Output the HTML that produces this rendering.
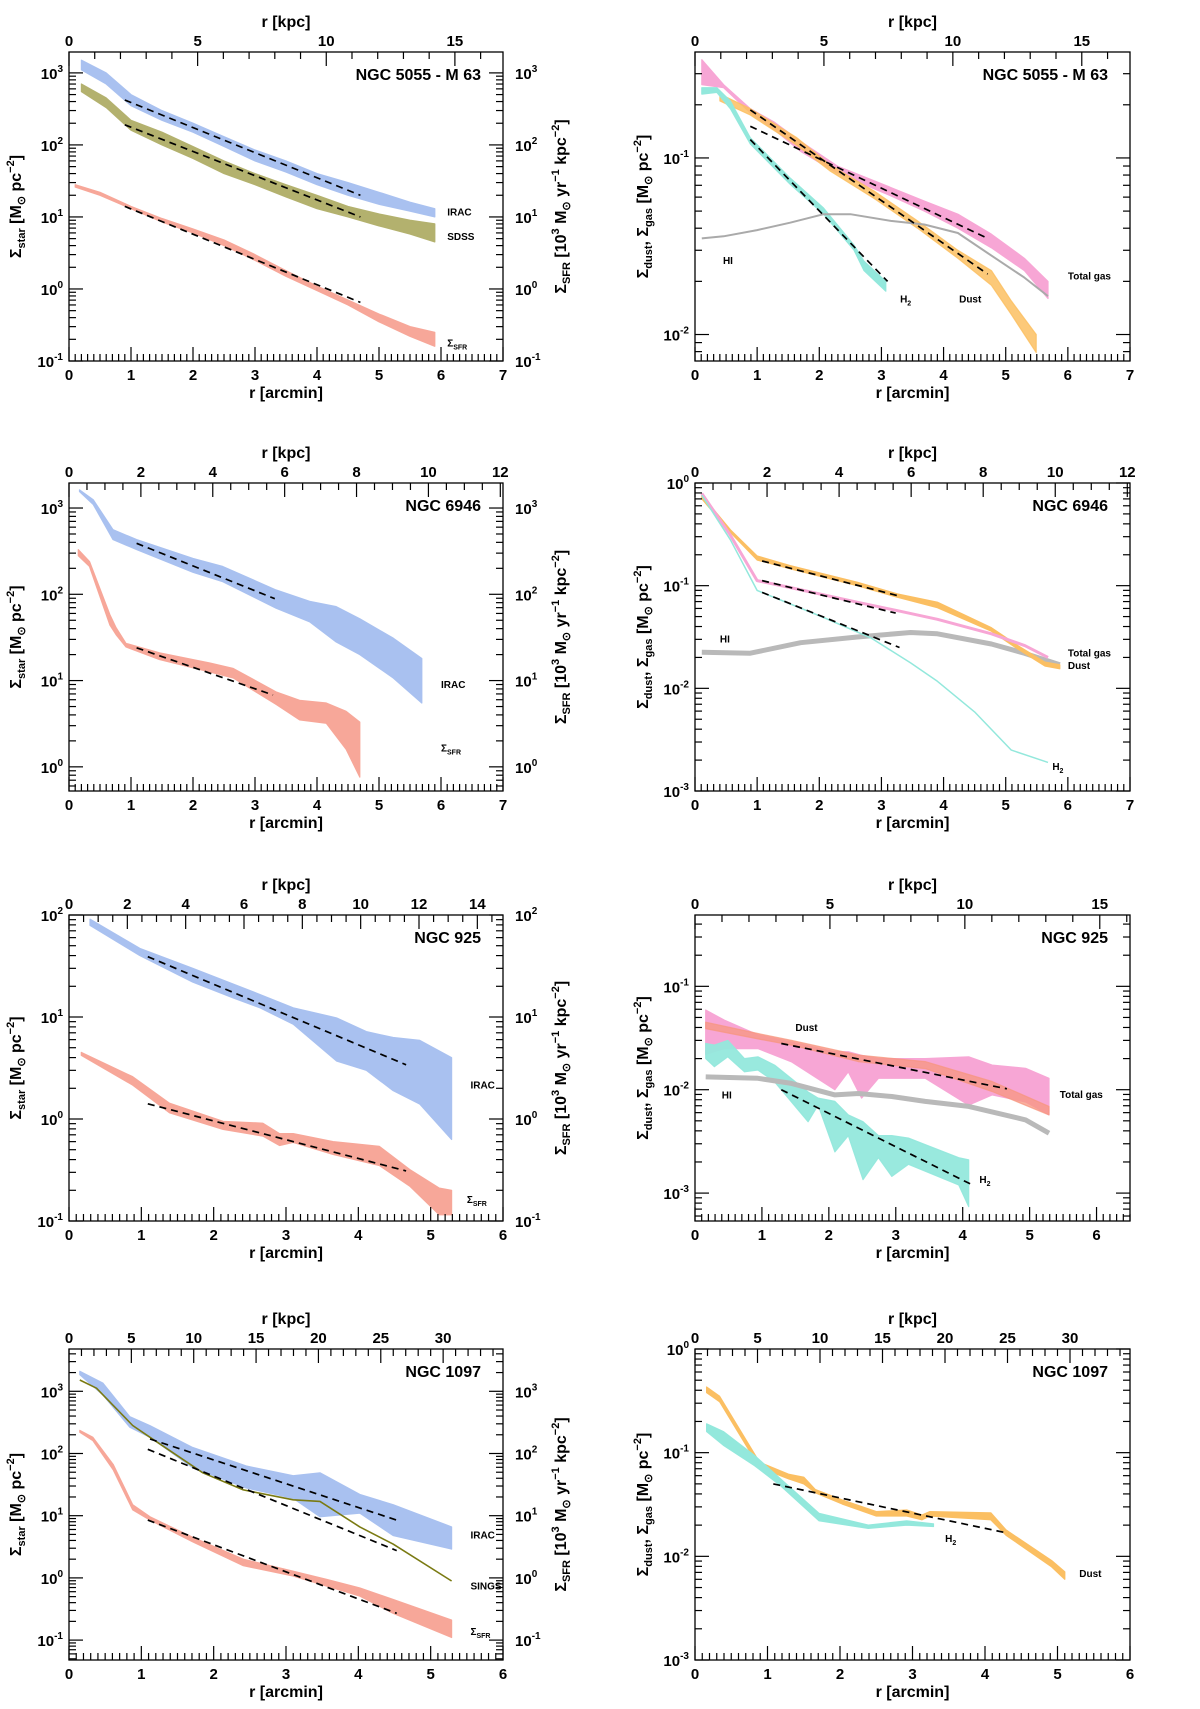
<!DOCTYPE html>
<html><head><meta charset="utf-8"><title>Radial profiles</title>
<style>
html,body{margin:0;padding:0;background:#fff;}
svg{display:block;font-family:"Liberation Sans",Arial,sans-serif;}
</style></head>
<body>
<svg id="fig" width="1200" height="1709" viewBox="0 0 1200 1709" xmlns="http://www.w3.org/2000/svg"></svg>
<script>
// ---------- data (values in surface density units, radius in arcmin) ----------
// Panel L1: NGC 5055 stellar / SFR
const l1IracR=[0.2,0.6,1.0,1.5,2.0,2.5,3.0,3.5,4.0,4.5,5.0,5.5,5.9];
const l1IracHi=[1500,1000,500,300,200,130,85,60,40,30,22,16,13];
const l1IracLo=[1100,700,350,220,150,95,60,42,28,20,15,12,10];
const l1SdssR=[0.2,0.6,1.0,1.5,2.0,2.5,3.0,3.5,4.0,4.5,5.0,5.5,5.9];
const l1SdssHi=[700,450,220,150,95,60,40,28,20,14,11,9,8];
const l1SdssLo=[550,330,160,100,65,40,28,19,13,10,7.5,5.8,4.5];
const l1SfrR=[0.1,0.5,1.0,1.5,2.0,2.5,3.0,3.5,4.0,4.5,5.0,5.5,5.9];
const l1SfrHi=[28,22,14,9.5,6.8,4.8,3.0,1.8,1.1,0.7,0.45,0.3,0.25];
const l1SfrLo=[26,20,13,8.5,6,4,2.5,1.5,0.95,0.6,0.35,0.22,0.16];
const l1FitIracR=[0.9,4.7], l1FitIracV=[420,20];
const l1FitSdssR=[0.9,4.7], l1FitSdssV=[190,10];
const l1FitSfrR=[0.9,4.7], l1FitSfrV=[14,0.65];
// Panel R1: NGC 5055 dust / gas
const r1GasR=[0.11,0.46,0.89,1.27,1.7,2.29,3.15,3.69,4.23,4.77,5.3,5.68];
const r1GasHi=[0.36,0.26,0.19,0.16,0.124,0.09,0.068,0.057,0.048,0.037,0.027,0.020];
const r1GasLo=[0.26,0.25,0.18,0.145,0.109,0.082,0.061,0.050,0.040,0.031,0.023,0.016];
const r1DustR=[0.4,0.89,1.64,2.18,2.88,3.58,4.23,4.77,5.09,5.49];
const r1DustHi=[0.23,0.19,0.13,0.091,0.065,0.044,0.030,0.023,0.0155,0.010];
const r1DustLo=[0.21,0.175,0.118,0.084,0.059,0.040,0.027,0.019,0.013,0.0079];
const r1H2R=[0.11,0.35,0.57,0.89,1.53,2.07,2.56,2.72,3.07];
const r1H2Hi=[0.25,0.25,0.21,0.13,0.077,0.052,0.032,0.026,0.020];
const r1H2Lo=[0.23,0.235,0.19,0.12,0.071,0.048,0.030,0.023,0.0176];
const r1HiR=[0.11,0.46,1.0,1.53,2.07,2.5,3.15,3.69,4.23,4.77,5.3,5.68];
const r1HiV=[0.035,0.036,0.039,0.043,0.048,0.048,0.044,0.042,0.0376,0.028,0.021,0.0165];
const r1FitDustR=[0.89,4.71], r1FitDustV=[0.187,0.022];
const r1FitGasR=[0.89,4.71], r1FitGasV=[0.151,0.035];
const r1FitH2R=[0.89,3.1], r1FitH2V=[0.127,0.020];
// Panel L2: NGC 6946
const l2IracR=[0.17,0.39,0.71,1.09,2.0,2.48,3.34,3.88,4.31,4.69,5.23,5.69];
const l2IracHi=[1620,1250,560,430,260,210,112,83,72,52,31,18];
const l2IracLo=[1550,1100,430,330,180,140,69,48,28,20,10.7,5.5];
const l2SfrR=[0.15,0.33,0.66,0.76,0.92,1.46,2.27,2.65,3.34,3.72,4.15,4.47,4.69];
const l2SfrHi=[330,240,58,41,27,21,16,13.8,7.4,5.9,5.5,4.4,3.3];
const l2SfrLo=[280,210,44,34,24.5,17.5,12.6,10.7,5.3,3.5,3.2,1.6,0.76];
const l2FitIracR=[1.09,3.32], l2FitIracV=[390,89];
const l2FitSfrR=[1.09,3.29], l2FitSfrV=[24,6.8];
// Panel R2: NGC 6946
const r2DustR=[0.11,0.57,1.0,1.53,2.61,3.26,3.9,4.77,5.2,5.63,5.87];
const r2DustHi=[0.76,0.35,0.195,0.157,0.108,0.083,0.069,0.039,0.026,0.018,0.017];
const r2DustLo=[0.70,0.33,0.178,0.146,0.100,0.077,0.061,0.036,0.024,0.0165,0.0155];
const r2GasR=[0.11,0.57,1.0,1.53,2.61,3.26,3.9,4.77,5.31,5.68];
const r2GasV=[0.79,0.31,0.112,0.096,0.069,0.057,0.047,0.034,0.026,0.020];
const r2H2R=[0.11,0.57,1.0,2.07,2.83,3.47,3.9,4.5,5.09,5.68];
const r2H2V=[0.76,0.28,0.09,0.049,0.031,0.0177,0.0117,0.0059,0.0025,0.0019];
const r2HiR=[0.11,0.89,1.7,2.61,3.47,3.9,4.77,5.3,5.87];
const r2HiV=[0.0225,0.022,0.0278,0.0316,0.035,0.034,0.027,0.022,0.017];
const r2FitDustR=[1.08,3.26], r2FitDustV=[0.174,0.080];
const r2FitGasR=[1.08,3.23], r2FitGasV=[0.112,0.054];
const r2FitH2R=[1.08,3.29], r2FitH2V=[0.086,0.025];
// Panel L3: NGC 925
const l3IracR=[0.29,0.98,1.71,2.27,2.64,3.1,3.7,4.11,4.48,4.85,5.29];
const l3IracHi=[91,47,30,21,16.6,12.3,9.8,7.2,6.3,5.9,4.0];
const l3IracLo=[79,40,22,15.4,12.3,8.5,3.7,3.0,1.9,1.4,0.63];
const l3SfrR=[0.17,0.88,1.39,2.13,2.68,2.91,3.1,3.65,4.29,4.71,5.12,5.29];
const l3SfrHi=[4.5,2.6,1.43,0.95,0.91,0.72,0.72,0.60,0.54,0.32,0.21,0.20];
const l3SfrLo=[4.2,2.15,1.15,0.79,0.68,0.55,0.59,0.45,0.35,0.22,0.115,0.115];
const l3FitIracR=[1.09,4.66], l3FitIracV=[39,3.4];
const l3FitSfrR=[1.09,4.66], l3FitSfrV=[1.41,0.31];
// Panel R3: NGC 925
const r3GasR=[0.16,0.44,0.94,1.44,2.09,2.29,2.49,2.74,3.44,4.09,4.44,4.94,5.29];
const r3GasHi=[0.059,0.047,0.034,0.029,0.0233,0.0233,0.0215,0.020,0.020,0.0208,0.0173,0.0161,0.0129];
const r3GasLo=[0.022,0.025,0.025,0.0186,0.010,0.0149,0.0083,0.0129,0.0129,0.0071,0.0089,0.0076,0.0057];
const r3DustR=[0.16,0.94,1.44,2.44,3.44,4.44,5.29];
const r3DustHi=[0.045,0.035,0.030,0.0216,0.0187,0.012,0.0069];
const r3DustLo=[0.039,0.031,0.027,0.0187,0.016,0.0096,0.0057];
const r3H2R=[0.16,0.29,0.49,0.74,0.94,1.19,1.69,1.84,2.09,2.29,2.51,2.74,2.94,3.19,3.94,4.09];
const r3H2Hi=[0.028,0.027,0.030,0.020,0.0208,0.0173,0.0095,0.0083,0.0077,0.0057,0.0049,0.0036,0.0036,0.0034,0.0022,0.0021];
const r3H2Lo=[0.020,0.0167,0.0208,0.0149,0.0155,0.0119,0.0049,0.0071,0.0025,0.0036,0.00135,0.0022,0.00145,0.0019,0.0012,0.00074];
const r3HiR=[0.16,0.94,1.44,2.09,2.44,2.94,3.44,4.09,4.44,4.94,5.29];
const r3HiV=[0.0133,0.0129,0.0115,0.0089,0.0092,0.0086,0.0077,0.0069,0.0061,0.0051,0.0038];
const r3FitDustR=[1.29,4.66], r3FitDustV=[0.028,0.0102];
const r3FitH2R=[1.29,4.11], r3FitH2V=[0.0100,0.00123];
// Panel L4: NGC 1097
const l4IracR=[0.15,0.47,0.84,1.12,1.71,2.45,3.1,3.47,4.02,4.48,5.29];
const l4IracHi=[2100,1350,390,280,125,63,44,49,22,15,6.6];
const l4IracLo=[1850,870,265,182,59,28,19,9.6,11,4.8,2.9];
const l4SingsR=[0.15,0.38,0.88,1.12,1.85,2.41,3.1,3.47,4.02,4.48,5.29];
const l4SingsV=[1520,1120,282,182,49,26,18,17,6.6,3.5,0.89];
const l4SfrR=[0.15,0.33,0.61,0.88,1.12,1.71,2.41,3.1,3.56,4.02,4.48,5.29];
const l4SfrHi=[235,182,67,15,9.6,4.5,2.0,1.28,0.95,0.69,0.45,0.21];
const l4SfrLo=[220,161,55,12.4,8.5,3.8,1.57,1.07,0.74,0.51,0.27,0.11];
const l4FitIracR=[1.12,4.53], l4FitIracV=[171,8.5];
const l4FitSingsR=[1.09,4.53], l4FitSingsV=[117,2.75];
const l4FitSfrR=[1.09,4.53], l4FitSfrV=[8.5,0.27];
// Panel R4: NGC 1097
const r4DustR=[0.16,0.34,0.89,1.29,1.5,1.66,2.03,2.5,2.92,3.13,3.24,4.08,4.29,4.92,5.1];
const r4DustHi=[0.43,0.35,0.081,0.062,0.058,0.044,0.035,0.027,0.028,0.025,0.027,0.0263,0.018,0.0091,0.0071];
const r4DustLo=[0.38,0.31,0.072,0.056,0.050,0.041,0.032,0.0245,0.0245,0.0225,0.0245,0.0225,0.016,0.0079,0.006];
const r4H2R=[0.16,0.39,0.82,1.18,1.71,2.39,2.92,3.29];
const r4H2Hi=[0.19,0.16,0.094,0.056,0.026,0.020,0.022,0.0206];
const r4H2Lo=[0.16,0.118,0.075,0.048,0.022,0.0186,0.020,0.0194];
const r4FitR=[1.08,4.32], r4FitV=[0.050,0.0167];

// ---------- drawing ----------
const NS='http://www.w3.org/2000/svg';
const svg=document.getElementById('fig');
const C={irac:'#a9c1f0',sdss:'#b3b16e',sfr:'#f7a799',gas:'#f7a6d5',dust:'#fbbf62',h2:'#93e8dc',hi:'#b9b9b9',sings:'#7a7a12'};

function mk(tag,attrs,parent){
  const el=document.createElementNS(NS,tag);
  for(const k in attrs) el.setAttribute(k,attrs[k]);
  (parent||svg).appendChild(el);
  return el;
}
function pow10(parent,x,y,exp,anchor,name){
  const t=mk('text',{x:x,y:y,'font-size':15,'font-weight':'bold','text-anchor':anchor,fill:'#000'},parent);
  
  
  const a=document.createElementNS(NS,'tspan');a.textContent='10';t.appendChild(a);
  const b=document.createElementNS(NS,'tspan');b.setAttribute('dy','-7');b.setAttribute('font-size','10');b.textContent=String(exp);t.appendChild(b);
  return t;
}

function makePanel(g){
  const grp=mk('g',{});
  
  
  const X=r=>g.x0+(r/g.rmax)*(g.x1-g.x0);
  const Y=v=>g.y1-(Math.log10(v)-g.lmin)/(g.lmax-g.lmin)*(g.y1-g.y0);
  const YL=l=>g.y1-(l-g.lmin)/(g.lmax-g.lmin)*(g.y1-g.y0);
  const clip=mk('clipPath',{id:'clip-'+g.id},grp);
  mk('rect',{x:g.x0,y:g.y0,width:g.x1-g.x0,height:g.y1-g.y0},clip);
  const plot=mk('g',{'clip-path':'url(#clip-'+g.id+')'},grp);
  
  
  const ax=mk('g',{stroke:'#000','stroke-width':1.2},grp);
  
  
  // bottom arcmin ticks
  for(let i=0;i<=g.rmax*10+0.01;i++){
    const r=i/10, x=X(r), maj=(i%10===0);
    const L=maj?14:7;
    mk('line',{x1:x,y1:g.y1,x2:x,y2:g.y1-L},ax);
    if(maj){
      const t=mk('text',{x:x,y:g.y1+19,'font-size':15,'font-weight':'bold','text-anchor':'middle',stroke:'none'},grp);
      
      
      t.textContent=String(r);
    }
  }
  // top kpc ticks
  for(let k=0;k/g.kpc<=g.rmax+1e-6;k+=g.kmin){
    const x=X(k/g.kpc);
    const maj=Math.abs(k/g.kmaj-Math.round(k/g.kmaj))<1e-6;
    mk('line',{x1:x,y1:g.y0,x2:x,y2:g.y0+(maj?14:7)},ax);
    if(maj){
      const t=mk('text',{x:x,y:g.y0-6,'font-size':15,'font-weight':'bold','text-anchor':'middle',stroke:'none'},grp);
      
      
      t.textContent=String(k);
    }
  }
  // y log ticks both sides
  for(let d=Math.floor(g.lmin)-1;d<=Math.ceil(g.lmax);d++){
    for(let m=1;m<=9;m++){
      const l=d+Math.log10(m);
      if(l<g.lmin-1e-6||l>g.lmax+1e-6) continue;
      const y=YL(l), L=(m===1)?14:7;
      mk('line',{x1:g.x0,y1:y,x2:g.x0+L,y2:y},ax);
      mk('line',{x1:g.x1,y1:y,x2:g.x1-L,y2:y},ax);
      if(m===1){
        pow10(grp,g.x0-6,y+6,d,'end','y-tick-label');
        if(g.left) pow10(grp,g.x1+12,y+6,d,'start','y2-tick-label');
      }
    }
  }
  const frame=mk('rect',{x:g.x0,y:g.y0,width:g.x1-g.x0,height:g.y1-g.y0,fill:'none',stroke:'#000','stroke-width':1.3},grp);
  
  
  // axis titles
  const cx=(g.x0+g.x1)/2;
  const xt=mk('text',{x:cx,y:g.y1+37,'font-size':16,'font-weight':'bold','text-anchor':'middle'},grp);
  
  
  xt.textContent='r [arcmin]';
  const kt=mk('text',{x:cx,y:g.y0-25,'font-size':16,'font-weight':'bold','text-anchor':'middle'},grp);
  
  
  kt.textContent='r [kpc]';
  const cy=(g.y0+g.y1)/2;
  const yt=mk('text',{x:0,y:0,'font-size':16,'font-weight':'bold','text-anchor':'middle',transform:'translate('+(g.left?21:648)+','+cy+') rotate(-90)'},grp);
  
  
  yt.innerHTML=g.left
    ? 'Σ<tspan font-size="11" dy="4">star</tspan><tspan dy="-4"> [M</tspan><tspan font-size="11" dy="4">⊙</tspan><tspan dy="-4"> pc</tspan><tspan font-size="11" dy="-7">−2</tspan><tspan dy="7">]</tspan>'
    : 'Σ<tspan font-size="11" dy="4">dust</tspan><tspan dy="-4">, Σ</tspan><tspan font-size="11" dy="4">gas</tspan><tspan dy="-4"> [M</tspan><tspan font-size="11" dy="4">⊙</tspan><tspan dy="-4"> pc</tspan><tspan font-size="11" dy="-7">−2</tspan><tspan dy="7">]</tspan>';
  if(g.left){
    const y2=mk('text',{x:0,y:0,'font-size':16,'font-weight':'bold','text-anchor':'middle',transform:'translate(566,'+cy+') rotate(-90)'},grp);
    
    
    y2.innerHTML='Σ<tspan font-size="11" dy="4">SFR</tspan><tspan dy="-4"> [10</tspan><tspan font-size="11" dy="-7">3</tspan><tspan dy="7"> M</tspan><tspan font-size="11" dy="4">⊙</tspan><tspan dy="-4"> yr</tspan><tspan font-size="11" dy="-7">−1</tspan><tspan dy="7"> kpc</tspan><tspan font-size="11" dy="-7">−2</tspan><tspan dy="7">]</tspan>';
  }
  const tt=mk('text',{x:g.x1-22,y:g.y0+28,'font-size':16,'font-weight':'bold','text-anchor':'end'},grp);
  
  
  tt.textContent=g.title;
  return {X,Y,plot,grp};
}

function band(p,r,hi,lo,color,name,op){
  let d='';
  for(let i=0;i<r.length;i++) d+=(i?'L':'M')+p.X(r[i]).toFixed(1)+','+p.Y(hi[i]).toFixed(1);
  for(let i=r.length-1;i>=0;i--) d+='L'+p.X(r[i]).toFixed(1)+','+p.Y(lo[i]).toFixed(1);
  const el=mk('path',{d:d+'Z',fill:color,'fill-opacity':op||1,stroke:color,'stroke-width':1.2,'stroke-opacity':op||1,'stroke-linejoin':'round'},p.plot);
  
  
}
function line(p,r,v,color,w,name,dash){
  let d='';
  for(let i=0;i<r.length;i++) d+=(i?'L':'M')+p.X(r[i]).toFixed(1)+','+p.Y(v[i]).toFixed(1);
  const a={d:d,fill:'none',stroke:color,'stroke-width':w,'stroke-linejoin':'round'};
  if(dash) a['stroke-dasharray']=dash;
  const el=mk('path',a,p.plot);
  
  
}
function fit(p,r,v,name){ line(p,r,v,'#000',1.7,name,'7,5'); }
function label(p,r,v,html,name,size){
  const t=mk('text',{x:p.X(r),y:p.Y(v),'font-size':size||10,'font-weight':'bold'},p.grp);
  
  
  t.innerHTML=html;
}
const SFRL='Σ<tspan font-size="7" dy="3">SFR</tspan>';
const H2L='H<tspan font-size="7" dy="3">2</tspan>';

// L1
let p=makePanel({id:'ngc5055-stellar',x0:69,x1:503,y0:52,y1:361,rmax:7,lmin:-1,lmax:3.29,kpc:2.41,kmaj:5,kmin:1,title:'NGC 5055 - M 63',left:true});
band(p,l1IracR,l1IracHi,l1IracLo,C.irac,'irac-band');
band(p,l1SdssR,l1SdssHi,l1SdssLo,C.sdss,'sdss-band');
band(p,l1SfrR,l1SfrHi,l1SfrLo,C.sfr,'sfr-band');
fit(p,l1FitIracR,l1FitIracV,'irac-fit');fit(p,l1FitSdssR,l1FitSdssV,'sdss-fit');fit(p,l1FitSfrR,l1FitSfrV,'sfr-fit');
label(p,6.1,10.5,'IRAC','irac-label');label(p,6.1,4.8,'SDSS','sdss-label');label(p,6.1,0.16,SFRL,'sfr-label');
// R1
p=makePanel({id:'ngc5055-gas',x0:695,x1:1130,y0:52,y1:361,rmax:7,lmin:-2.15,lmax:-0.40,kpc:2.41,kmaj:5,kmin:1,title:'NGC 5055 - M 63',left:false});
band(p,r1GasR,r1GasHi,r1GasLo,C.gas,'total-gas-band');
band(p,r1DustR,r1DustHi,r1DustLo,C.dust,'dust-band',0.85);
band(p,r1H2R,r1H2Hi,r1H2Lo,C.h2,'h2-band');
line(p,r1HiR,r1HiV,'#aaaaaa',2,'hi-line');
fit(p,r1FitDustR,r1FitDustV,'dust-fit');fit(p,r1FitGasR,r1FitGasV,'gas-fit');fit(p,r1FitH2R,r1FitH2V,'h2-fit');
label(p,0.45,0.025,'HI','hi-label');label(p,3.3,0.0152,H2L,'h2-label');label(p,4.25,0.0152,'Dust','dust-label');label(p,6.0,0.0205,'Total gas','total-gas-label');
// L2
p=makePanel({id:'ngc6946-stellar',x0:69,x1:503,y0:483,y1:791,rmax:7,lmin:-0.28,lmax:3.29,kpc:1.725,kmaj:2,kmin:0.5,title:'NGC 6946',left:true});
band(p,l2IracR,l2IracHi,l2IracLo,C.irac,'irac-band');
band(p,l2SfrR,l2SfrHi,l2SfrLo,C.sfr,'sfr-band');
fit(p,l2FitIracR,l2FitIracV,'irac-fit');fit(p,l2FitSfrR,l2FitSfrV,'sfr-fit');
label(p,6.0,8.2,'IRAC','irac-label');label(p,6.0,1.5,SFRL,'sfr-label');
// R2
p=makePanel({id:'ngc6946-gas',x0:695,x1:1130,y0:483,y1:791,rmax:7,lmin:-3,lmax:0,kpc:1.725,kmaj:2,kmin:0.5,title:'NGC 6946',left:false});
line(p,r2HiR,r2HiV,C.hi,5,'hi-band');
band(p,r2DustR,r2DustHi,r2DustLo,C.dust,'dust-band');
line(p,r2GasR,r2GasV,C.gas,3,'total-gas-line');
line(p,r2H2R,r2H2V,C.h2,1.5,'h2-line');
fit(p,r2FitDustR,r2FitDustV,'dust-fit');fit(p,r2FitGasR,r2FitGasV,'gas-fit');fit(p,r2FitH2R,r2FitH2V,'h2-fit');
label(p,0.4,0.028,'HI','hi-label');label(p,6.0,0.0205,'Total gas','total-gas-label');label(p,6.0,0.0155,'Dust','dust-label');label(p,5.75,0.0016,H2L,'h2-label');
// L3
p=makePanel({id:'ngc925-stellar',x0:69,x1:503,y0:915,y1:1221,rmax:6,lmin:-1,lmax:2,kpc:2.48,kmaj:2,kmin:0.5,title:'NGC 925',left:true});
band(p,l3IracR,l3IracHi,l3IracLo,C.irac,'irac-band');
band(p,l3SfrR,l3SfrHi,l3SfrLo,C.sfr,'sfr-band');
fit(p,l3FitIracR,l3FitIracV,'irac-fit');fit(p,l3FitSfrR,l3FitSfrV,'sfr-fit');
label(p,5.55,2.0,'IRAC','irac-label');label(p,5.5,0.15,SFRL,'sfr-label');
// R3
p=makePanel({id:'ngc925-gas',x0:695,x1:1130,y0:915,y1:1221,rmax:6.5,lmin:-3.27,lmax:-0.31,kpc:2.48,kmaj:5,kmin:1,title:'NGC 925',left:false});
band(p,r3GasR,r3GasHi,r3GasLo,C.gas,'total-gas-band');
band(p,r3DustR,r3DustHi,r3DustLo,'#f7957f','dust-band',0.75);
band(p,r3H2R,r3H2Hi,r3H2Lo,C.h2,'h2-band',0.95);
line(p,r3HiR,r3HiV,C.hi,5,'hi-band');
fit(p,r3FitDustR,r3FitDustV,'dust-fit');fit(p,r3FitH2R,r3FitH2V,'h2-fit');
label(p,1.5,0.037,'Dust','dust-label');label(p,0.4,0.0082,'HI','hi-label');label(p,5.45,0.0083,'Total gas','total-gas-label');label(p,4.25,0.00125,H2L,'h2-label');
// L4
p=makePanel({id:'ngc1097-stellar',x0:69,x1:503,y0:1349,y1:1660,rmax:6,lmin:-1.32,lmax:3.68,kpc:5.8,kmaj:5,kmin:1,title:'NGC 1097',left:true});
band(p,l4IracR,l4IracHi,l4IracLo,C.irac,'irac-band');
band(p,l4SfrR,l4SfrHi,l4SfrLo,C.sfr,'sfr-band');
line(p,l4SingsR,l4SingsV,C.sings,1.6,'sings-line');
fit(p,l4FitIracR,l4FitIracV,'irac-fit');fit(p,l4FitSingsR,l4FitSingsV,'sings-fit');fit(p,l4FitSfrR,l4FitSfrV,'sfr-fit');
label(p,5.55,4.3,'IRAC','irac-label');label(p,5.55,0.65,'SINGS','sings-label');label(p,5.55,0.12,SFRL,'sfr-label');
// R4
p=makePanel({id:'ngc1097-gas',x0:695,x1:1130,y0:1349,y1:1660,rmax:6,lmin:-3,lmax:0,kpc:5.8,kmaj:5,kmin:1,title:'NGC 1097',left:false});
band(p,r4DustR,r4DustHi,r4DustLo,C.dust,'dust-band');
band(p,r4H2R,r4H2Hi,r4H2Lo,C.h2,'h2-band');
fit(p,r4FitR,r4FitV,'dust-fit');
label(p,3.45,0.0138,H2L,'h2-label');label(p,5.3,0.0063,'Dust','dust-label');
</script>
</body></html>
